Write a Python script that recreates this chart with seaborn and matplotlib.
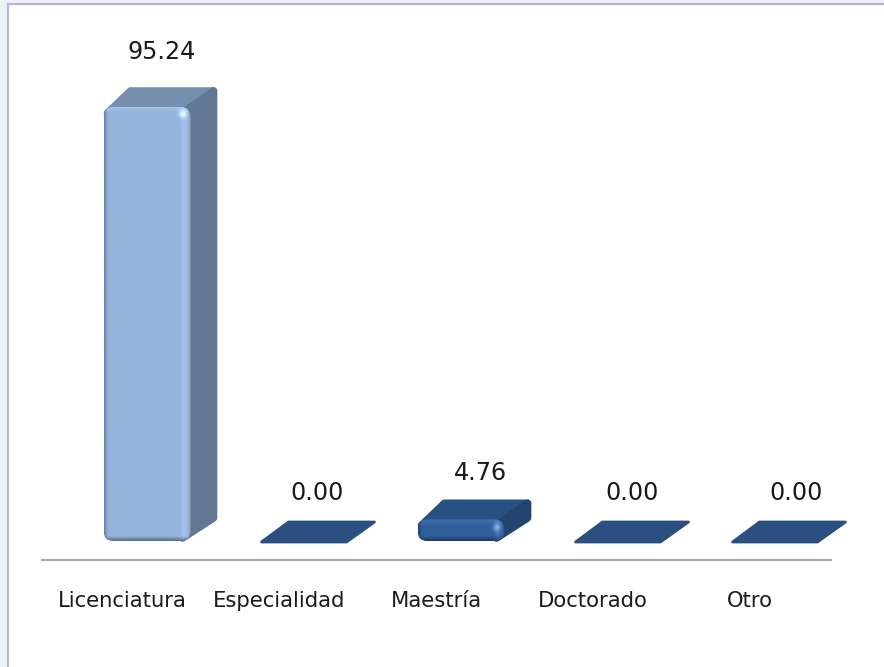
import numpy as np
import pandas as pd
import matplotlib
matplotlib.use("Agg")
import matplotlib.pyplot as plt
import matplotlib.colors as mcolors
from matplotlib.patches import FancyBboxPatch, Polygon, Rectangle
import seaborn as sns

categories = ['Licenciatura', 'Especialidad', 'Maestría', 'Doctorado', 'Otro']
values = [95.24, 0.00, 4.76, 0.00, 0.00]
value_labels = ['95.24', '0.00', '4.76', '0.00', '0.00']
bar_colors = ['#95B4DC', '#2B5080', '#2F5F99', '#2B5080', '#2B5080']

# pixel layout
W, H = 884, 667
AX_LEFT, AX_RIGHT, AX_BASE, AX_TOP = 42, 831, 560, 5
PX_X = 157.0     # pixels per category
PX_Y = 4.557     # pixels per value unit
FIRST_CENTER = 147
ZERO_ROW = 541
DEPTH_X, DEPTH_Y = 27, 20
LABEL_SHIFT = [15, 13, 19, 14, 21]
LABEL_ROW = [55, 48, 46, 48, 48]   # label centre above the top of the bar, in pixels

sns.set_theme(style="white")
df = pd.DataFrame({'cat': categories, 'val': values})

fig = plt.figure(figsize=(W / 100, H / 100), dpi=100, facecolor='#EEF3F9')
fig.patches.append(Rectangle((8 / W, -0.02), 1.1, 1.02 - 4 / H, transform=fig.transFigure,
                             facecolor='white', edgecolor='#B9B5D3', linewidth=1.6, zorder=-1))
ax = fig.add_axes([AX_LEFT / W, 1 - AX_BASE / H, (AX_RIGHT - AX_LEFT) / W, (AX_BASE - AX_TOP) / H])
ax.patch.set_alpha(0)

sns.barplot(data=df, x='cat', y='val', hue='cat', palette=bar_colors, width=0.554,
            legend=False, ax=ax, saturation=1)
xlim = ((AX_LEFT - FIRST_CENTER) / PX_X, (AX_RIGHT - FIRST_CENTER) / PX_X)
ylim = ((ZERO_ROW - AX_BASE) / PX_Y, (ZERO_ROW - AX_TOP) / PX_Y)

dx, dy = DEPTH_X / PX_X, DEPTH_Y / PX_Y
px, py = 1 / PX_X, 1 / PX_Y


def shaded_front(ax, bar):
    """Overlay a bevelled, rounded front face on a seaborn bar."""
    x0, w, h = bar.get_x(), bar.get_width(), bar.get_height()
    base = np.array(mcolors.to_rgb(bar.get_facecolor()))
    px_w, px_h = int(w * PX_X), int(h * PX_Y)
    v, u = np.mgrid[0:px_h, 0:px_w]
    left, right, bottom, top = u + 0.5, px_w - u - 0.5, v + 0.5, px_h - v - 0.5
    edge = 1 - 0.30 * np.clip(1 - left / 4, 0, 1) \
             - 0.42 * np.clip(1 - bottom / 5, 0, 1) \
             - 0.12 * np.clip(1 - right / 3, 0, 1)
    glow = 0.06 * np.clip(1 - np.abs(right - 7) / 5, 0, 1)
    glow += 0.07 * np.clip(1 - top / 7, 0, 1)
    spot = np.exp(-((right - 8) ** 2 + (top - 8) ** 2) / 14.0)
    img = np.clip(base[None, None, :] * edge[..., None] + (glow + 0.28 * spot)[..., None], 0, 1)
    radius = 0.065
    box = FancyBboxPatch((x0 + radius, radius * PX_X / PX_Y), w - 2 * radius,
                         h - 2 * radius * PX_X / PX_Y,
                         boxstyle=f"round,pad={radius},rounding_size={radius}",
                         mutation_aspect=PX_X / PX_Y, facecolor='none', edgecolor='none', zorder=5)
    ax.add_patch(box)
    im = ax.imshow(img, origin='lower', aspect='auto', extent=(x0, x0 + w, 0, h),
                   interpolation='bilinear', zorder=4)
    im.set_clip_path(box)
    bar.set_clip_path(box)


for i, bar in enumerate(ax.patches):
    x0, x1, h = bar.get_x(), bar.get_x() + bar.get_width(), bar.get_height()
    color = np.array(mcolors.to_rgb(bar.get_facecolor()))
    if h > 0:
        top_col = color * (0.85 if h < 10 else 0.80)
        side_col = color * (0.72 if h < 10 else 0.66)
        # thick round-joined outlines, inset by half their width, give soft corners
        inset = 4
        ax.add_patch(Polygon([(x0 + inset * px, h - 6 * py), (x0 + dx, h + dy - inset * py),
                              (x1 + dx - inset * px, h + dy - inset * py), (x1, h - 6 * py)],
                             closed=True, facecolor=top_col, edgecolor=top_col, lw=5.5,
                             joinstyle='round', zorder=3, clip_on=False))
        ax.add_patch(Polygon([(x1 - 8 * px, 3 * py), (x1 + dx - inset * px, dy + 3 * py),
                              (x1 + dx - inset * px, h + dy - inset * py), (x1 - 8 * px, h - 6 * py)],
                             closed=True, facecolor=side_col, edgecolor=side_col, lw=5.5,
                             joinstyle='round', zorder=3, clip_on=False))
        shaded_front(ax, bar)
    else:
        # empty categories only show the flat floor of the column
        y0, y1 = -1 * py, 19 * py
        ax.add_patch(Polygon([(x0 + 1 * px, y0), (x1 - 1 * px, y0), (x1 + dx, y1), (x0 + dx + 1 * px, y1)],
                             closed=True, facecolor=color, edgecolor=color, lw=2, joinstyle='round',
                             zorder=3, clip_on=False))
    ax.text(i + LABEL_SHIFT[i] * px, h + LABEL_ROW[i] * py, value_labels[i], ha='center', va='center',
            fontsize=17.2, color='#1A1A1A')

ax.set_xlim(*xlim)
ax.set_ylim(*ylim)
ax.set_xlabel('')
ax.set_ylabel('')
ax.set_yticks([])
ax.set_xticks(np.arange(len(categories)) - 25 * px)
ax.set_xticklabels(categories, fontsize=15.2, color='#1A1A1A')
ax.tick_params(axis='x', length=0, pad=22.5)
for name in ['top', 'left', 'right']:
    ax.spines[name].set_visible(False)
ax.spines['bottom'].set_color('#A8A8A8')
ax.spines['bottom'].set_linewidth(1.5)

fig.savefig('out.png', dpi=100, facecolor=fig.get_facecolor())
